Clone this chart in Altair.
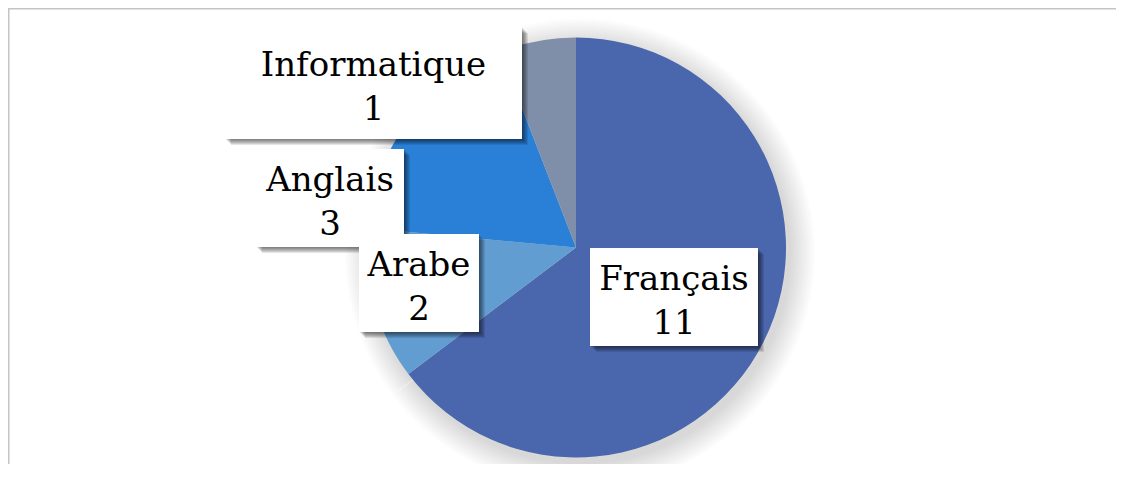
import altair as alt
import pandas as pd

# ---- data ----
categories = ["Français", "Arabe", "Anglais", "Informatique"]
counts = [11, 2, 3, 1]
slice_colors = ["#4A66AC", "#629DD1", "#2A7FD6", "#7F8FA9"]

# ---- layout (chart pixels) ----
W, H = 1108, 456
CX, CY, R = 568, 239.5, 210
box_x1 = [582, 351, 248, 217]
box_x2 = [750, 471, 396, 514]
box_y1 = [240, 226, 141, 19]
box_y2 = [338, 324, 239, 131]
FONT = "DejaVu Serif"

pie_df = pd.DataFrame({"cat": categories, "n": counts, "idx": list(range(len(categories)))})
lab_df = pd.DataFrame({
    "cat": categories,
    "label": [f"{c}\n{n}" for c, n in zip(categories, counts)],
    "x1": box_x1, "x2": box_x2, "y1": box_y1, "y2": box_y2,
})
lab_df["xc"] = (lab_df["x1"] + lab_df["x2"]) / 2
lab_df["yt"] = (lab_df["y1"] + lab_df["y2"]) / 2 - 7

color_scale = alt.Scale(domain=categories, range=slice_colors)

layers = []

# soft shadow around the pie
for rr in range(211, 237, 2):
    layers.append(
        alt.Chart(pie_df).mark_arc(radius=rr, opacity=0.013, color="#000000").encode(
            theta=alt.Theta("n:Q", stack=True),
            order=alt.Order("idx:Q"),
            x=alt.value(CX + 4),
            y=alt.value(CY + 6),
        )
    )

pie = alt.Chart(pie_df).mark_arc(radius=R).encode(
    theta=alt.Theta("n:Q", stack=True),
    order=alt.Order("idx:Q"),
    color=alt.Color("cat:N", scale=color_scale, legend=None),
    x=alt.value(CX),
    y=alt.value(CY),
)
layers.append(pie)

# label box shadows
for k in range(1, 7):
    layers.append(
        alt.Chart(lab_df).mark_rect(color="#000000", opacity=0.1).encode(
            x=alt.X("sx1:Q", scale=None, axis=None), x2="sx2:Q",
            y=alt.Y("sy1:Q", scale=None, axis=None), y2="sy2:Q",
        ).transform_calculate(
            sx1=f"datum.x1 + {k}", sx2=f"datum.x2 + {k}",
            sy1=f"datum.y1 + {k}", sy2=f"datum.y2 + {k}",
        )
    )

boxes = alt.Chart(lab_df).mark_rect(color="#FFFFFF").encode(
    x=alt.X("x1:Q", scale=None, axis=None), x2="x2:Q",
    y=alt.Y("y1:Q", scale=None, axis=None), y2="y2:Q",
)
layers.append(boxes)

texts = alt.Chart(lab_df).mark_text(
    font=FONT, fontSize=34, lineBreak="\n", lineHeight=44,
    baseline="alphabetic", align="center", color="#000000",
).encode(
    x=alt.X("xc:Q", scale=None, axis=None),
    y=alt.Y("yt:Q", scale=None, axis=None),
    text="label:N",
)
layers.append(texts)

one = pd.DataFrame({"a": [0]})
# frame: only the top and left edges are visible in the reference
layers.append(alt.Chart(one).mark_rect(color="#C4C4C4").encode(
    x=alt.value(0), x2=alt.value(W), y=alt.value(0), y2=alt.value(1.5)))
layers.append(alt.Chart(one).mark_rect(color="#C4C4C4").encode(
    x=alt.value(0), x2=alt.value(1.5), y=alt.value(0), y2=alt.value(H)))

chart = alt.layer(*layers).properties(
    width=W, height=H, padding=0,
    autosize=alt.AutoSizeParams(type="none"),
).configure_view(
    stroke="transparent", strokeWidth=0
).configure_axis(domain=False, grid=False, ticks=False, labels=False)

chart.save("out.html", embed_options={"renderer": "svg", "actions": False})
